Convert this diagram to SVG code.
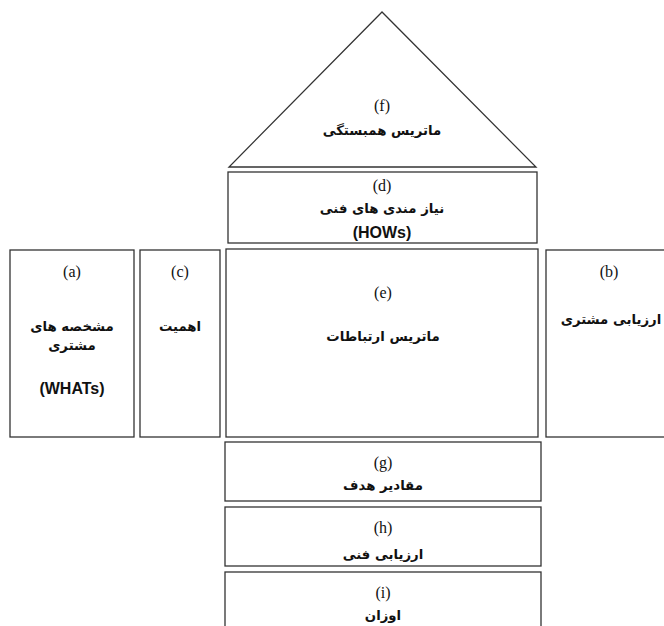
<svg xmlns="http://www.w3.org/2000/svg" width="664" height="626" viewBox="0 0 664 626">
<style>
.box{fill:#fff;stroke:#333;stroke-width:1.3}
.lab{font-family:"Liberation Serif",serif;font-size:16px;fill:#111;text-anchor:middle}
.fa{font-family:"DejaVu Sans",sans-serif;font-weight:bold;font-size:13.3px;fill:#111;text-anchor:middle}
.en{font-family:"Liberation Sans",sans-serif;font-weight:bold;font-size:16px;fill:#111;text-anchor:middle}
</style>
<rect width="664" height="626" fill="#fff"/>
<g id="f">
<polygon class="box" points="382,12 229,167 536,167"/>
<text class="lab" x="382" y="111">(f)</text>
<text class="fa" x="382" y="135">ماتریس همبستگی</text>
</g>
<g id="d">
<rect class="box" x="228" y="172" width="309" height="71"/>
<text class="lab" x="382" y="191">(d)</text>
<text class="fa" x="382" y="213">نیاز مندی های فنی</text>
<text class="en" x="382" y="238">(HOWs)</text>
</g>
<g id="a">
<rect class="box" x="10" y="250" width="124" height="187"/>
<text class="lab" x="72" y="277">(a)</text>
<text class="fa" x="72" y="331">مشخصه های</text>
<text class="fa" x="72" y="350">مشتری</text>
<text class="en" x="72" y="394">(WHATs)</text>
</g>
<g id="c">
<rect class="box" x="140" y="250" width="80" height="187"/>
<text class="lab" x="180" y="277">(c)</text>
<text class="fa" x="180" y="331">اهمیت</text>
</g>
<g id="e">
<rect class="box" x="226" y="249" width="312" height="188"/>
<text class="lab" x="383" y="298">(e)</text>
<text class="fa" x="383" y="341">ماتریس ارتباطات</text>
</g>
<g id="b">
<rect class="box" x="546" y="250" width="130" height="187"/>
<text class="lab" x="609" y="277">(b)</text>
<text class="fa" x="611" y="324" font-size="12.5">ارزیابی مشتری</text>
</g>
<g id="g">
<rect class="box" x="225" y="442" width="316" height="59"/>
<text class="lab" x="383" y="468">(g)</text>
<text class="fa" x="383" y="490">مقادیر هدف</text>
</g>
<g id="h">
<rect class="box" x="225" y="507" width="316" height="59"/>
<text class="lab" x="383" y="533">(h)</text>
<text class="fa" x="383" y="559">ارزیابی فنی</text>
</g>
<g id="i">
<rect class="box" x="225" y="572" width="316" height="60"/>
<text class="lab" x="383" y="598">(i)</text>
<text class="fa" x="383" y="620">اوزان</text>
</g>
<g id="connectors"></g>
</svg>
